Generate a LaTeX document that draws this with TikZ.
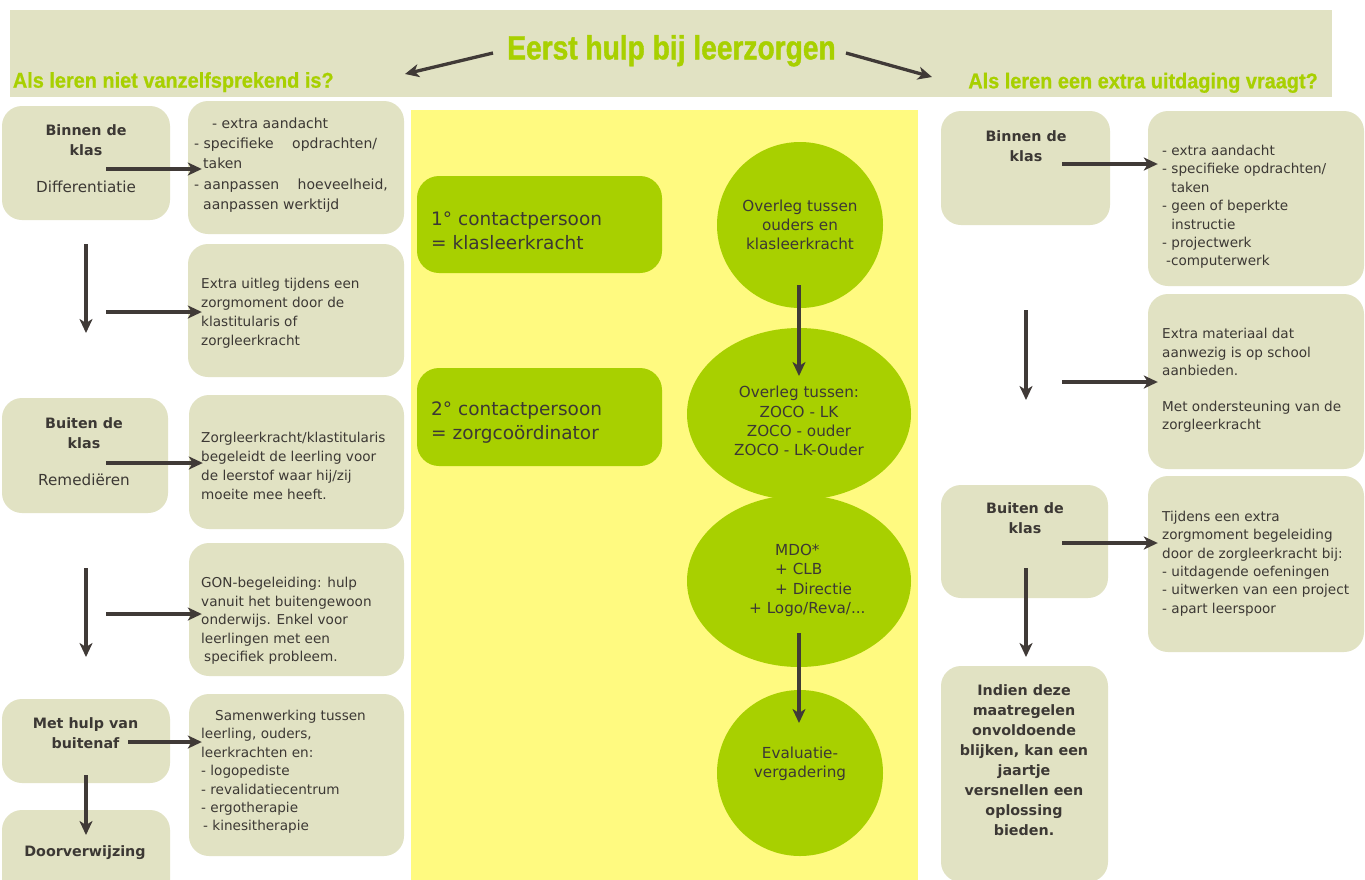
\documentclass[tikz,border=0pt]{standalone}
\usepackage{fontspec}
\setmainfont{DejaVu Sans}
\newfontfamily\titlefont[FakeStretch=0.84,FakeBold=1.2]{Liberation Sans}
\newfontfamily\subfont[FakeStretch=0.93,FakeBold=0.8]{Liberation Sans}
\usetikzlibrary{arrows.meta,shapes.geometric,calc}
\definecolor{beige}{HTML}{E1E2C3}
\definecolor{lgreen}{HTML}{A8D000}
\definecolor{yel}{HTML}{FFFA80}
\definecolor{dark}{HTML}{403A37}
\definecolor{txt}{HTML}{3C3834}
\begin{document}
\begin{tikzpicture}[x=1pt,y=-1pt,
  box/.style={fill=beige, rounded corners=20pt, inner sep=0pt, draw=none},
  gbox/.style={fill=lgreen, rounded corners=22pt, inner sep=0pt, draw=none},
  blob/.style={fill=lgreen, inner sep=0pt, draw=none},
  arr/.style={draw=dark, line width=3.3pt, -{Stealth[length=14pt,width=13pt,inset=4pt]}},
  body/.style={text=txt, inner sep=0pt, align=left, anchor=west, font=\fontsize{13.6}{19}\selectfont},
  lab/.style={text=txt, inner sep=0pt, align=center, font=\fontsize{14.3}{20}\selectfont\bfseries},
  circtxt/.style={text=txt, inner sep=0pt, align=center, font=\fontsize{15.2}{19.3}\selectfont},
  gtxt/.style={text=txt, inner sep=0pt, align=left, anchor=west, font=\fontsize{18.5}{24}\selectfont},
  ttl/.style={text=lgreen, inner sep=0pt, font=\titlefont\bfseries\fontsize{33.5}{36}\selectfont},
  sub/.style={text=lgreen, inner sep=0pt, font=\subfont\bfseries\fontsize{21.4}{24}\selectfont}
]
\useasboundingbox (0,0) rectangle (1365,879);
\fill[white] (0,0) rectangle (1365,879);

% banner
\node[fill=beige, inner sep=0pt, minimum width=1322pt, minimum height=87pt] (banner) at (671,53.5) {};
\node[ttl, anchor=base] (title) at (671.5,59.3) {Eerst hulp bij leerzorgen};
\node[sub, anchor=base west] (subL) at (12.7,87.7) {Als leren niet vanzelfsprekend is?};
\node[sub, anchor=base east] (subR) at (1318,88.3) {Als leren een extra uitdaging vraagt?};
\coordinate (tA) at (493,53);
\coordinate (tL) at (405,74);
\coordinate (tB) at (846,53);
\coordinate (tR) at (932,77);
\draw[arr] (tA) -- (tL);
\draw[arr] (tB) -- (tR);

% middle panel
\node[fill=yel, inner sep=0pt, minimum width=507pt, minimum height=780pt] (panel) at (664.5,500) {};
\node[gbox, minimum width=245pt, minimum height=97pt] (G1) at (539.5,224.5) {};
\node[gbox, minimum width=245pt, minimum height=98pt] (G2) at (539.5,417) {};
\node[blob, circle, minimum size=166pt] (C1) at (800,225) {};
\node[blob, ellipse, minimum width=224pt, minimum height=172pt] (C2) at (799,414) {};
\node[blob, ellipse, minimum width=224pt, minimum height=172pt] (C3) at (799,581) {};
\node[blob, circle, minimum size=166pt] (C4) at (800,773) {};

% left column boxes
\node[box, minimum width=168pt, minimum height=114pt] (L1) at (86,163) {};
\node[box, minimum width=216pt, minimum height=133pt] (R1) at (296,167.5) {};
\node[box, minimum width=216pt, minimum height=133pt] (R2) at (296,310.5) {};
\node[box, minimum width=166pt, minimum height=115pt] (L2) at (85,455.5) {};
\node[box, minimum width=215pt, minimum height=134pt] (R3) at (296.5,462) {};
\node[box, minimum width=215pt, minimum height=133pt] (R4) at (296.5,609.5) {};
\node[box, minimum width=168pt, minimum height=84pt] (L3) at (86,741) {};
\node[box, minimum width=168pt, minimum height=90pt] (L4) at (86,855) {};
\node[box, minimum width=215pt, minimum height=162pt] (R5) at (296.5,775) {};

% right column boxes
\node[box, minimum width=169pt, minimum height=114pt] (RL1) at (1025.5,168) {};
\node[box, minimum width=216pt, minimum height=175pt] (RR1) at (1256,198.5) {};
\node[box, minimum width=216pt, minimum height=175pt] (RR2) at (1256,381.5) {};
\node[box, minimum width=167pt, minimum height=113pt] (RL2) at (1024.5,541.5) {};
\node[box, minimum width=216pt, minimum height=176pt] (RR3) at (1256,564) {};
\node[box, minimum width=167pt, minimum height=216pt] (RL3) at (1024.5,774) {};

% texts left
\node[lab, anchor=center] (L1t) at (86,159) {Binnen de\\klas\\[17pt]{\mdseries\fontsize{15.2}{20}\selectfont Differentiatie}};
\node[body, font=\fontsize{14}{20.2}\selectfont] (R1t) at (194,165) {\hspace*{18pt}- extra aandacht\\- specifieke\hspace{14pt} opdrachten/\\\hspace*{9pt}taken\\- aanpassen\hspace{14pt} hoeveelheid,\\\hspace*{9pt}aanpassen werktijd};
\node[body] (R2t) at (201,313.5) {Extra uitleg tijdens een\\zorgmoment door de\\klastitularis of\\zorgleerkracht};
\node[lab, anchor=center] (L2t) at (84,452) {Buiten de\\klas\\[17pt]{\mdseries\fontsize{15.2}{20}\selectfont Remediëren}};
\node[body] (R3t) at (201,466) {Zorgleerkracht/klastitularis\\begeleidt de leerling voor\\de leerstof waar hij/zij\\moeite mee heeft.};
\node[body, font=\fontsize{13.6}{18.6}\selectfont] (R4t) at (201,621) {GON-begeleiding: hulp\\vanuit het buitengewoon\\onderwijs. Enkel voor\\leerlingen met een\\\hspace*{3pt}specifiek probleem.};
\node[lab, anchor=center] (L3t) at (85.5,733.5) {Met hulp van\\buitenaf};
\node[lab, anchor=center] (L4t) at (85,853) {Doorverwijzing};
\node[body, font=\fontsize{13.6}{18.4}\selectfont] (R5t) at (201,772) {\hspace*{14pt}Samenwerking tussen\\leerling, ouders,\\leerkrachten en:\\- logopediste\\- revalidatiecentrum\\- ergotherapie\\\hspace*{2pt}- kinesitherapie};

% texts middle
\node[gtxt] (G1t) at (431,230.5) {1° contactpersoon\\= klasleerkracht};
\node[gtxt] (G2t) at (431,423) {2° contactpersoon\\= zorgcoördinator};
\node[circtxt] (C1t) at (800,225) {Overleg tussen\\ouders en\\klasleerkracht};
\node[circtxt] (C2t) at (799,421) {Overleg tussen:\\ZOCO - LK\\ZOCO - ouder\\ZOCO - LK-Ouder};
\node[circtxt, align=left, anchor=west] (C3t) at (775,580.5) {MDO*\\+ CLB\\+ Directie\\\hspace*{-26pt}+ Logo/Reva/...};
\node[circtxt] (C4t) at (800,763.5) {Evaluatie-\\vergadering};

% texts right
\node[lab, anchor=center] (RL1t) at (1026,146) {Binnen de\\klas};
\node[body, font=\fontsize{13.6}{18.4}\selectfont] (RR1t) at (1162,207) {- extra aandacht\\- specifieke opdrachten/\\\hphantom{- }taken\\- geen of beperkte\\\hphantom{- }instructie\\- projectwerk\\\hspace*{4pt}-computerwerk};
\node[body, font=\fontsize{13.6}{18.4}\selectfont] (RR2t) at (1162,380.5) {Extra materiaal dat\\aanwezig is op school\\aanbieden.\\[17pt]Met ondersteuning van de\\zorgleerkracht};
\node[lab, anchor=center] (RL2t) at (1025,518.5) {Buiten de\\klas};
\node[body, font=\fontsize{13.6}{18.3}\selectfont] (RR3t) at (1162,563.5) {Tijdens een extra\\zorgmoment begeleiding\\door de zorgleerkracht bij:\\- uitdagende oefeningen\\- uitwerken van een project\\- apart leerspoor};
\node[lab, anchor=center] (RL3t) at (1024,760) {Indien deze\\maatregelen\\onvoldoende\\blijken, kan een\\jaartje\\versnellen een\\oplossing\\bieden.};

% arrows left
\coordinate (a1) at (106,169);
\coordinate (a2) at (106,312);
\coordinate (a3) at (106,463);
\coordinate (a4) at (106,614);
\coordinate (a5) at (128,742);
\draw[arr, shorten >=-14pt] (a1) -- (a1 -| R1.west);
\draw[arr, shorten >=-14pt] (a2) -- (a2 -| R2.west);
\draw[arr, shorten >=-14pt] (a3) -- (a3 -| R3.west);
\draw[arr, shorten >=-13pt] (a4) -- (a4 -| R4.west);
\draw[arr, shorten >=-13pt] (a5) -- (a5 -| R5.west);
\coordinate (d1s) at (86,244);
\coordinate (d1e) at (86,333);
\coordinate (d2s) at (86,568);
\coordinate (d2e) at (86,657);
\coordinate (d3s) at (86,775);
\coordinate (d3e) at (86,835);
\draw[arr] (d1s) -- (d1e);
\draw[arr] (d2s) -- (d2e);
\draw[arr] (d3s) -- (d3e);

% arrows middle
\coordinate (m1s) at (799,285);
\coordinate (m1e) at (799,376);
\coordinate (m2s) at (799,633);
\coordinate (m2e) at (799,723);
\draw[arr] (m1s) -- (m1e);
\draw[arr] (m2s) -- (m2e);

% arrows right
\coordinate (b1) at (1062,164);
\coordinate (b2) at (1062,382);
\coordinate (b3) at (1062,543);
\draw[arr, shorten >=-10pt] (b1) -- (b1 -| RR1.west);
\draw[arr, shorten >=-10pt] (b2) -- (b2 -| RR2.west);
\draw[arr, shorten >=-10pt] (b3) -- (b3 -| RR3.west);
\coordinate (e1s) at (1026,310);
\coordinate (e1e) at (1026,400);
\coordinate (e2s) at (1026,568);
\coordinate (e2e) at (1026,657);
\draw[arr] (e1s) -- (e1e);
\draw[arr] (e2s) -- (e2e);
\end{tikzpicture}
\end{document}
